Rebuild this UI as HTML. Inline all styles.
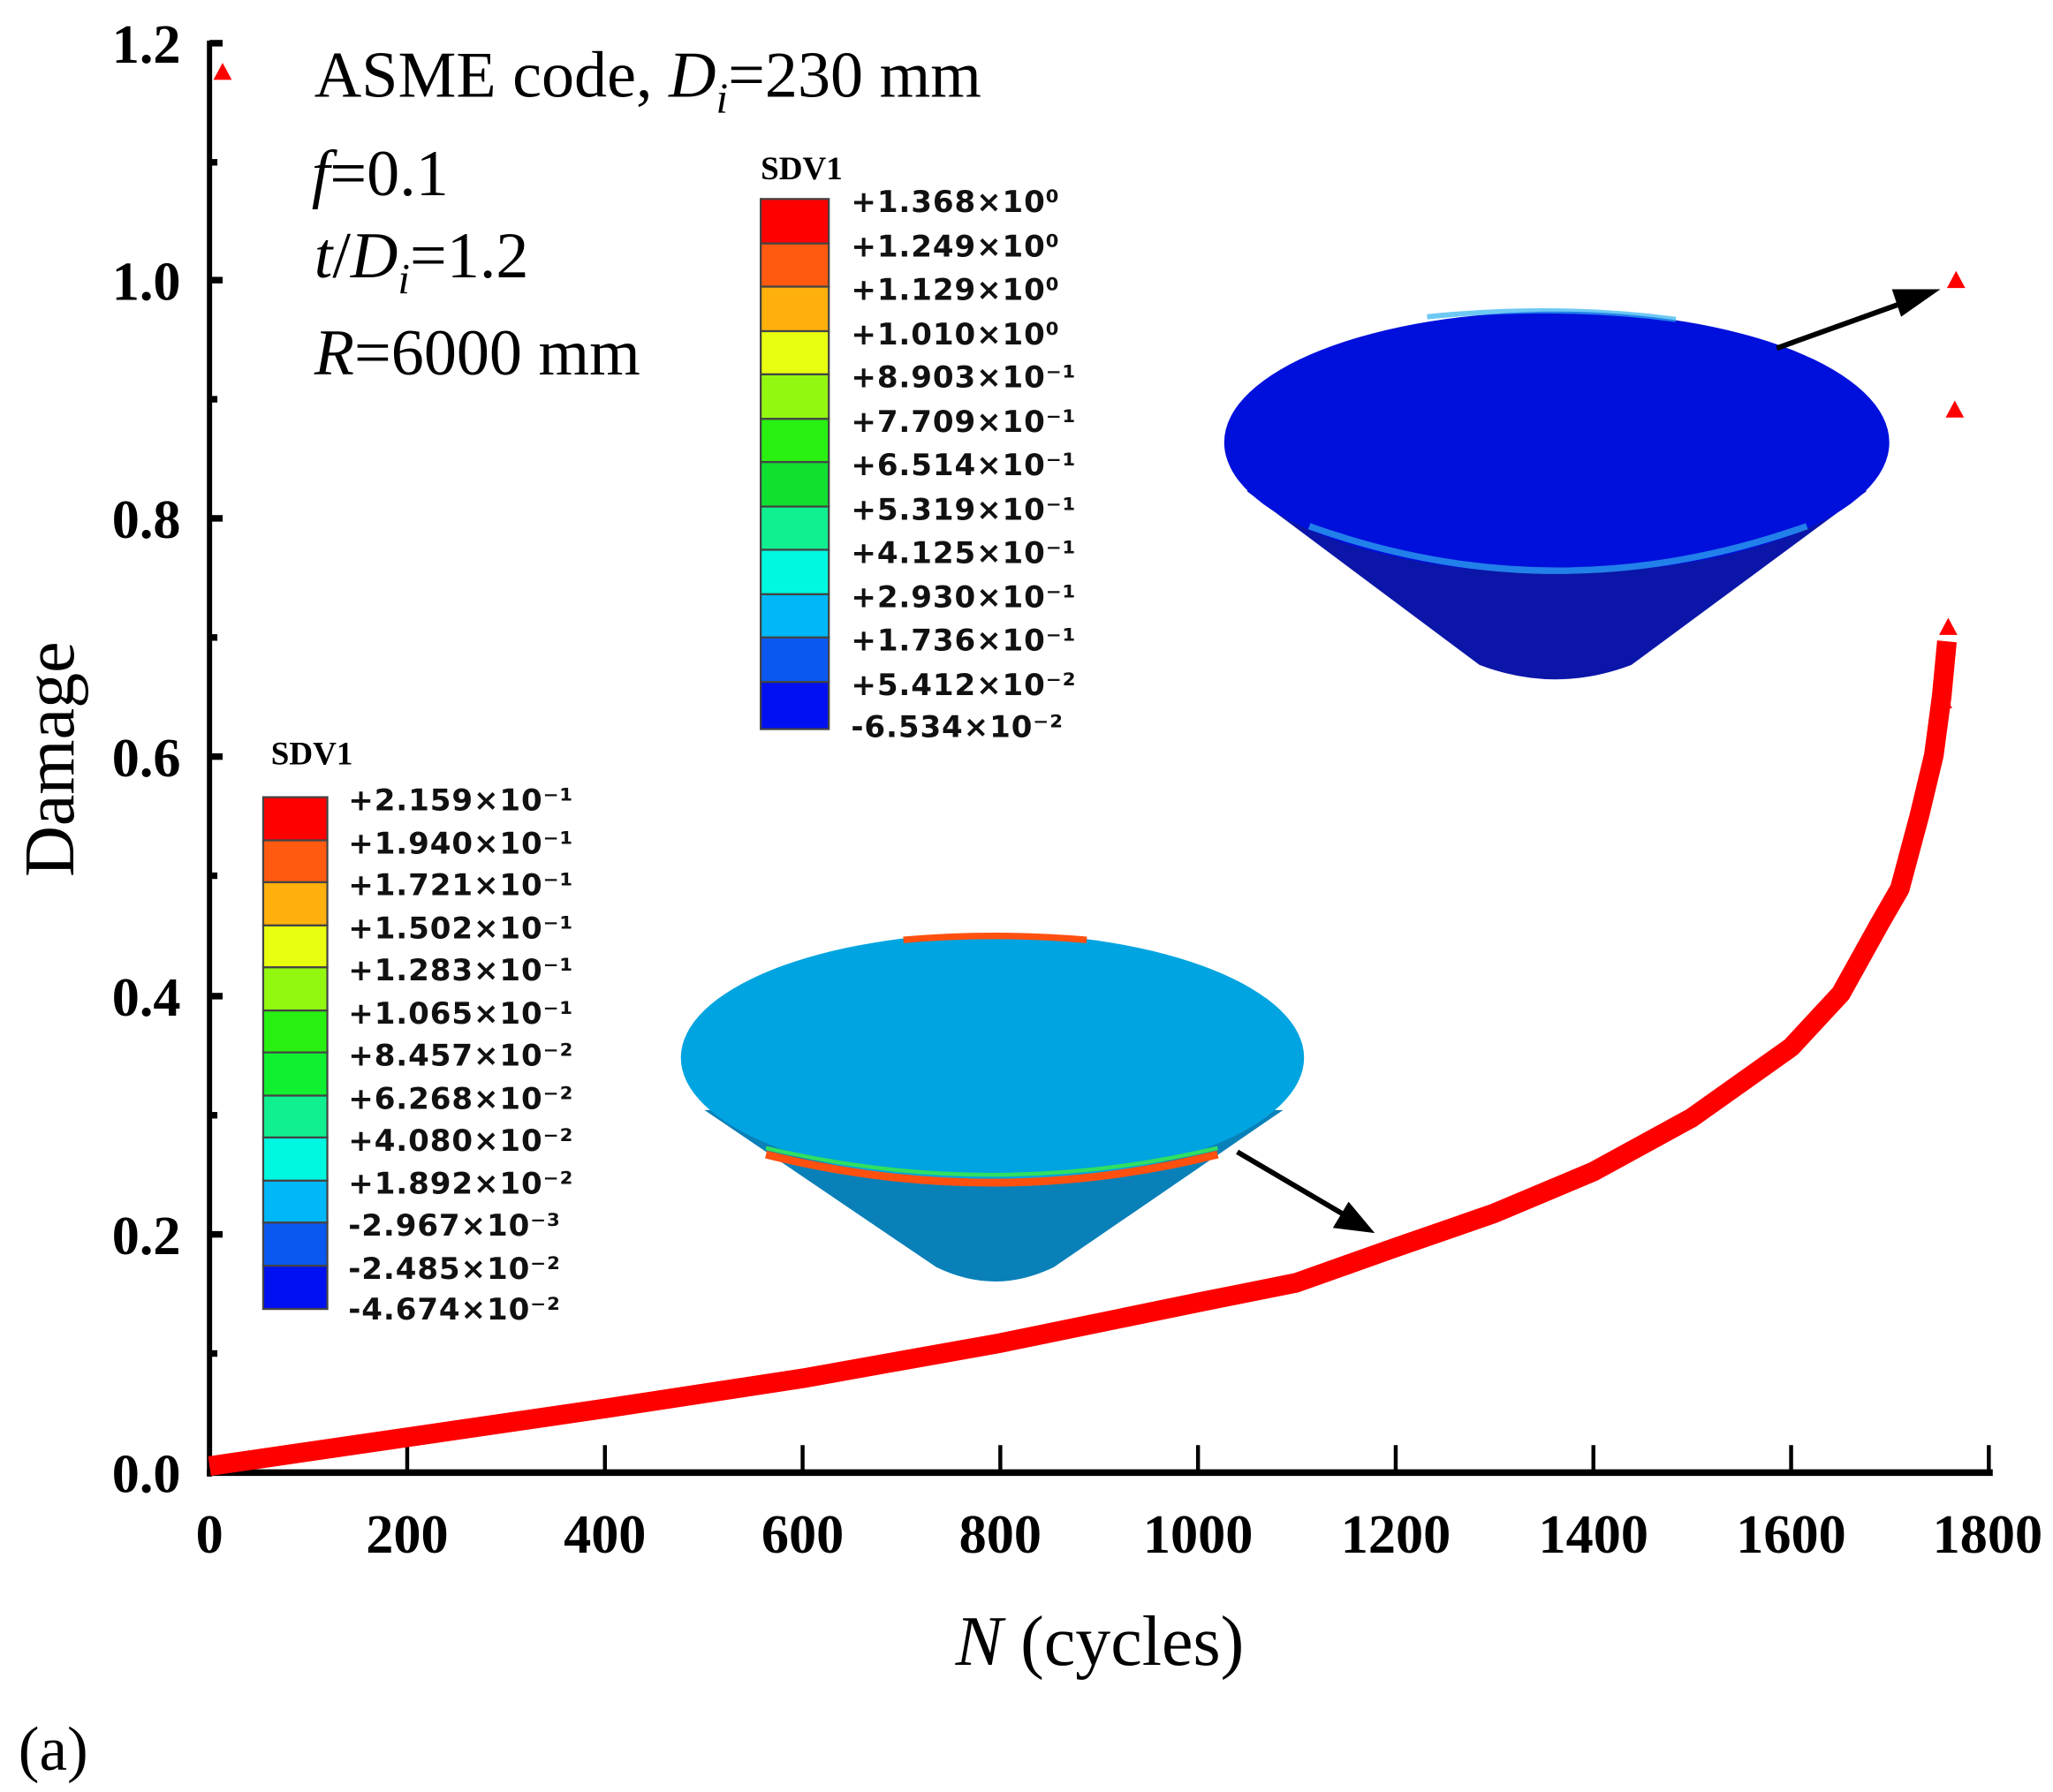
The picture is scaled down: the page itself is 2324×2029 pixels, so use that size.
<!DOCTYPE html>
<html><head><meta charset="utf-8"><style>
html,body{margin:0;padding:0;background:#fff;}
svg{display:block;}
.t{font-family:"Liberation Serif",serif;}
.s{font-family:"DejaVu Sans","Liberation Sans",sans-serif;font-weight:bold;font-size:23px;fill:#111;letter-spacing:0.6px;}
</style></head><body>
<svg width="2324" height="2029" viewBox="0 0 1568 1369" xmlns="http://www.w3.org/2000/svg">
<defs>
<polygon id="tri" points="0,-8 7,5 -7,5" fill="#f00"/>
</defs>
<line x1="160" y1="31" x2="160" y2="1128" stroke="#000" stroke-width="4"/>
<line x1="158" y1="1125" x2="1522" y2="1125" stroke="#000" stroke-width="5"/>
<g stroke="#000" stroke-width="5">
<line x1="160" y1="33" x2="170" y2="33"/><line x1="160" y1="214" x2="170" y2="214"/>
<line x1="160" y1="396" x2="170" y2="396"/><line x1="160" y1="578" x2="170" y2="578"/>
<line x1="160" y1="761" x2="170" y2="761"/><line x1="160" y1="943" x2="170" y2="943"/>
<line x1="160" y1="124" x2="166" y2="124"/><line x1="160" y1="305" x2="166" y2="305"/>
<line x1="160" y1="487" x2="166" y2="487"/><line x1="160" y1="669" x2="166" y2="669"/>
<line x1="160" y1="852" x2="166" y2="852"/><line x1="160" y1="1034" x2="166" y2="1034"/>
</g>
<g stroke="#000" stroke-width="3">
<line x1="311" y1="1125" x2="311" y2="1104"/><line x1="462" y1="1125" x2="462" y2="1104"/>
<line x1="613" y1="1125" x2="613" y2="1104"/><line x1="764" y1="1125" x2="764" y2="1104"/>
<line x1="915" y1="1125" x2="915" y2="1104"/><line x1="1066" y1="1125" x2="1066" y2="1104"/>
<line x1="1217" y1="1125" x2="1217" y2="1104"/><line x1="1368" y1="1125" x2="1368" y2="1104"/>
<line x1="1519" y1="1125" x2="1519" y2="1104"/>
</g>
<g class="t" font-size="42" font-weight="bold" text-anchor="end">
<text x="138" y="48">1.2</text><text x="138" y="229">1.0</text><text x="138" y="411">0.8</text>
<text x="138" y="593">0.6</text><text x="138" y="776">0.4</text><text x="138" y="958">0.2</text>
<text x="138" y="1140">0.0</text>
</g>
<g class="t" font-size="42" font-weight="bold" text-anchor="middle">
<text x="160" y="1186">0</text><text x="311" y="1186">200</text><text x="462" y="1186">400</text>
<text x="613" y="1186">600</text><text x="764" y="1186">800</text><text x="915" y="1186">1000</text>
<text x="1066" y="1186">1200</text><text x="1217" y="1186">1400</text><text x="1368" y="1186">1600</text>
<text x="1518" y="1186">1800</text>
</g>
<text class="t" font-size="54" transform="translate(56,580) rotate(-90)" text-anchor="middle">Damage</text>
<text class="t" font-size="54" x="840" y="1272" text-anchor="middle"><tspan font-style="italic">N</tspan> (cycles)</text>
<text class="t" font-size="48" x="14" y="1352">(a)</text>
<g class="t" font-size="50">
<text x="240" y="74">ASME code, <tspan font-style="italic">D</tspan><tspan font-style="italic" font-size="33" dy="12">i</tspan><tspan dy="-12">=230 mm</tspan></text>
<text x="238" y="149"><tspan font-style="italic">f</tspan>=0.1</text>
<text x="240" y="212"><tspan font-style="italic">t</tspan>/<tspan font-style="italic">D</tspan><tspan font-style="italic" font-size="33" dy="12">i</tspan><tspan dy="-12">=1.2</tspan></text>
<text x="240" y="286"><tspan font-style="italic">R</tspan>=6000 mm</text>
</g>
<text class="t" font-weight="bold" font-size="25" x="581" y="137">SDV1</text>
<g stroke="#444" stroke-width="1.5">
<rect x="581" y="152" width="52" height="34" fill="#ff0000"/>
<rect x="581" y="186" width="52" height="33" fill="#ff5a10"/>
<rect x="581" y="219" width="52" height="34" fill="#ffb00c"/>
<rect x="581" y="253" width="52" height="33" fill="#e8ff10"/>
<rect x="581" y="286" width="52" height="34" fill="#92f810"/>
<rect x="581" y="320" width="52" height="33" fill="#28f010"/>
<rect x="581" y="353" width="52" height="34" fill="#10e030"/>
<rect x="581" y="387" width="52" height="33" fill="#10f090"/>
<rect x="581" y="420" width="52" height="34" fill="#00f8e0"/>
<rect x="581" y="454" width="52" height="33" fill="#00b8f8"/>
<rect x="581" y="487" width="52" height="34" fill="#0a58f0"/>
<rect x="581" y="521" width="52" height="36" fill="#0010f0"/>
</g>
<g class="s">
<text x="650" y="162">+1.368×10⁰</text><text x="650" y="196">+1.249×10⁰</text>
<text x="650" y="229">+1.129×10⁰</text><text x="650" y="263">+1.010×10⁰</text>
<text x="650" y="296">+8.903×10⁻¹</text><text x="650" y="330">+7.709×10⁻¹</text>
<text x="650" y="363">+6.514×10⁻¹</text><text x="650" y="397">+5.319×10⁻¹</text>
<text x="650" y="430">+4.125×10⁻¹</text><text x="650" y="464">+2.930×10⁻¹</text>
<text x="650" y="497">+1.736×10⁻¹</text><text x="650" y="531">+5.412×10⁻²</text>
<text x="650" y="563">-6.534×10⁻²</text>
</g>
<text class="t" font-weight="bold" font-size="25" x="207" y="584">SDV1</text>
<g stroke="#444" stroke-width="1.5">
<rect x="201" y="609" width="49" height="33" fill="#ff0000"/>
<rect x="201" y="642" width="49" height="32" fill="#ff5a10"/>
<rect x="201" y="674" width="49" height="33" fill="#ffb00c"/>
<rect x="201" y="707" width="49" height="32" fill="#e8ff10"/>
<rect x="201" y="739" width="49" height="33" fill="#92f810"/>
<rect x="201" y="772" width="49" height="32" fill="#28f010"/>
<rect x="201" y="804" width="49" height="33" fill="#10f030"/>
<rect x="201" y="837" width="49" height="32" fill="#10f090"/>
<rect x="201" y="869" width="49" height="33" fill="#00f8e0"/>
<rect x="201" y="902" width="49" height="32" fill="#00b8f8"/>
<rect x="201" y="934" width="49" height="33" fill="#0a58f0"/>
<rect x="201" y="967" width="49" height="33" fill="#0010f0"/>
</g>
<g class="s">
<text x="266" y="619">+2.159×10⁻¹</text><text x="266" y="652">+1.940×10⁻¹</text>
<text x="266" y="684">+1.721×10⁻¹</text><text x="266" y="717">+1.502×10⁻¹</text>
<text x="266" y="749">+1.283×10⁻¹</text><text x="266" y="782">+1.065×10⁻¹</text>
<text x="266" y="814">+8.457×10⁻²</text><text x="266" y="847">+6.268×10⁻²</text>
<text x="266" y="879">+4.080×10⁻²</text><text x="266" y="912">+1.892×10⁻²</text>
<text x="266" y="944">-2.967×10⁻³</text><text x="266" y="977">-2.485×10⁻²</text>
<text x="266" y="1008">-4.674×10⁻²</text>
</g>
<path d="M952,375 L1130,508 Q1188,530 1246,508 L1426,375 Z" fill="#0b16a8"/>
<ellipse cx="1189" cy="338" rx="254" ry="100" fill="#0010dc"/>
<path d="M1000,402 Q1189,470 1380,402" stroke="#30b0f0" stroke-width="5" fill="none" opacity="0.7"/>
<path d="M1090,242 Q1189,232 1280,244" stroke="#30b0f0" stroke-width="4" fill="none" opacity="0.7"/>
<path d="M538,848 L715,968 Q760,990 805,968 L980,848 Z" fill="#0a80b8"/>
<ellipse cx="758" cy="808" rx="238" ry="95" fill="#00a4e0"/>
<path d="M585,882 Q758,925 930,882" stroke="#ff5010" stroke-width="6" fill="none"/>
<path d="M585,877 Q758,918 930,877" stroke="#30e060" stroke-width="3" fill="none"/>
<path d="M690,718 Q758,712 830,718" stroke="#ff5010" stroke-width="5" fill="none"/>
<line x1="1357" y1="266" x2="1460" y2="229" stroke="#000" stroke-width="4"/>
<polygon points="1482,221 1445,221 1452,242" fill="#000"/>
<line x1="945" y1="880" x2="1030" y2="930" stroke="#000" stroke-width="4"/>
<polygon points="1050,942 1018,938 1030,918" fill="#000"/>
<polyline fill="none" stroke="#f00" stroke-width="15" stroke-linejoin="round" points="160,1120 311,1098 462,1076 613,1053 764,1026 915,995 990,980 1066,953 1141,927 1217,895 1292,854 1368,800 1406,759 1436,705 1451,679 1466,623 1477,577 1483,532 1487,490"/>
<use href="#tri" x="1488" y="480"/>
<use href="#tri" x="1484" y="536"/>
<use href="#tri" x="1476" y="574"/>
<use href="#tri" x="1493" y="314"/>
<use href="#tri" x="1494" y="215"/>
<use href="#tri" x="170" y="56"/>
</svg>
</body></html>
